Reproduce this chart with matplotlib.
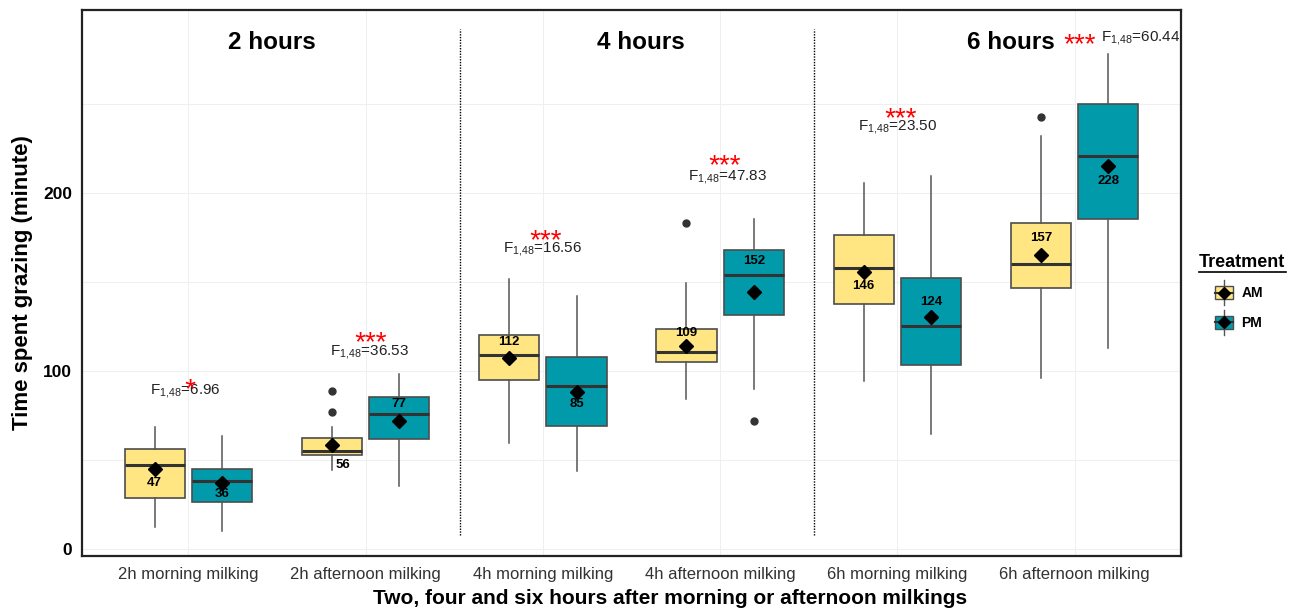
import numpy as np
import matplotlib.pyplot as plt
from matplotlib.lines import Line2D
from matplotlib.patches import Rectangle, Patch
from matplotlib.legend_handler import HandlerBase

plt.rcParams['font.family'] = ['Liberation Sans', 'DejaVu Sans']
plt.rcParams['mathtext.fontset'] = 'custom'
plt.rcParams['mathtext.rm'] = 'Liberation Sans'
plt.rcParams['mathtext.it'] = 'Liberation Sans:italic'

categories = ["2h morning milking", "2h afternoon milking", "4h morning milking",
              "4h afternoon milking", "6h morning milking", "6h afternoon milking"]
treatments = ["AM", "PM"]
panel_titles = ["2 hours", "4 hours", "6 hours"]

# box summaries (minutes)
am_whislo = [12.5, 44.4, 59.7, 84.3, 94.4, 96.2]
am_q1 = [28.8, 53.0, 95.1, 104.9, 137.6, 146.8]
am_med = [47.2, 55.0, 109.0, 110.7, 157.7, 160.0]
am_q3 = [56.2, 62.5, 120.2, 123.8, 176.4, 183.3]
am_whishi = [68.7, 68.7, 151.5, 149.3, 205.4, 232.2]
am_mean = [44.8, 58.4, 107.1, 114.0, 155.4, 165.2]
am_fliers = [[], [76.8, 88.8], [], [183.3], [], [242.5]]
am_labels = [47, 56, 112, 109, 146, 157]

pm_whislo = [10.3, 35.6, 43.8, 89.7, 64.4, 113.1]
pm_q1 = [26.4, 61.6, 69.3, 131.6, 103.4, 185.4]
pm_med = [38.4, 75.7, 91.6, 153.9, 125.3, 221.0]
pm_q3 = [44.8, 85.2, 107.7, 168.2, 152.1, 250.0]
pm_whishi = [63.5, 98.3, 142.3, 185.6, 209.6, 277.9]
pm_mean = [36.9, 72.1, 88.2, 144.6, 130.2, 215.3]
pm_fliers = [[], [], [], [72.1], [], []]
pm_labels = [36, 77, 85, 152, 124, 228]

f_values = ["6.96", "36.53", "16.56", "47.83", "23.50", "60.44"]
stars = ["*", "***", "***", "***", "***", "***"]

# layout of the annotations
am_lab_off = [(0, -18), (11, -14), (0, 13), (0, 19), (0, -18), (0, 26)]
pm_lab_off = [(0, -13), (0, 10), (0, -18), (0, 14), (0, 24), (0, -25)]
f_x = [0.98, 2.02, 3.0, 4.04, 5.0, 6.15]
f_y = [88.8, 110.5, 168.5, 209.2, 236.9, 287.3]
star_x = [1.0, 2.02, 3.01, 4.02, 5.01, 6.02]
star_y = [93.3, 119.7, 176.8, 219.1, 245.1, 286.9]
title_x = [1.47, 3.554, 5.638]

colors = {"AM": "#FFE682", "PM": "#009AAB"}

fig = plt.figure(figsize=(12.98, 6.13), dpi=100)
ax = fig.add_axes([82 / 1298, 57 / 613, (1181 - 82) / 1298, (556 - 10) / 613])

x = np.arange(1, len(categories) + 1)
offset = 0.19
width = 0.34

series = {
    "AM": (am_whislo, am_q1, am_med, am_q3, am_whishi, am_mean, am_fliers, am_labels, am_lab_off, -offset),
    "PM": (pm_whislo, pm_q1, pm_med, pm_q3, pm_whishi, pm_mean, pm_fliers, pm_labels, pm_lab_off, offset),
}

for t in treatments:
    lo, q1, med, q3, hi, mean, fl, labs, loff, dx = series[t]
    stats = []
    for i in range(len(categories)):
        stats.append({"whislo": lo[i], "q1": q1[i], "med": med[i], "q3": q3[i],
                      "whishi": hi[i], "mean": mean[i], "fliers": fl[i]})
    ax.bxp(stats, positions=x + dx, widths=width, patch_artist=True, showmeans=True,
           showcaps=False,
           boxprops=dict(facecolor=colors[t], edgecolor="#4d4d4d", linewidth=1.2),
           medianprops=dict(color="#333333", linewidth=2.2),
           whiskerprops=dict(color="#555555", linewidth=1.1),
           flierprops=dict(marker="o", markerfacecolor="#333333", markeredgecolor="#333333", markersize=5),
           meanprops=dict(marker="D", markerfacecolor="black", markeredgecolor="black", markersize=7.5),
           zorder=3)
    for i in range(len(categories)):
        ax.annotate(str(labs[i]), (x[i] + dx, med[i]), xytext=loff[i], textcoords="offset pixels",
                    ha="center", va="center", fontsize=9.5, fontweight="bold", color="black", zorder=5)

for i in range(len(categories)):
    ftxt = r"F$_{1{,}48}$=" + f_values[i]
    if i == len(categories) - 1:
        ax.text(f_x[i], f_y[i], ftxt, ha="left", va="center", fontsize=11, color="#222222")
    else:
        ax.text(f_x[i], f_y[i], ftxt, ha="center", va="center", fontsize=11, color="#222222")
    ax.annotate(stars[i], (star_x[i], star_y[i]), xytext=(0, -14), textcoords="offset pixels",
                ha="center", va="baseline", fontsize=20, color="red", style="italic", zorder=6)

for tx, tt in zip(title_x, panel_titles):
    ax.text(tx, 284.3, tt, ha="center", va="center", fontsize=17.5, fontweight="bold")

ax.vlines([2.53, 4.53], 8, 292, colors="black", linestyles=(0, (1, 1)), linewidth=1, zorder=2)

ax.set_xlim(0.4, 6.6)
ax.set_ylim(-4, 302.8)
ax.set_xticks(x)
ax.set_xticklabels(categories, fontsize=12, color="#333333")
ax.set_yticks([0, 100, 200])
ax.set_yticks([50, 150, 250], minor=True)
for lab in ax.get_yticklabels():
    lab.set_fontweight("bold")
ax.tick_params(axis="y", labelsize=12.5, labelcolor="black", length=0, pad=7)
ax.tick_params(axis="y", which="minor", length=0)
ax.tick_params(axis="x", length=0, pad=8)
ax.grid(True, which="both", color="#EFEFEF", linewidth=0.7, zorder=0)
ax.set_axisbelow(True)
for s in ax.spines.values():
    s.set_linewidth(1.6)
    s.set_color("#222222")

ax.set_ylabel("Time spent grazing (minute)", fontsize=16, fontweight="bold")
ax.yaxis.set_label_coords((33 - 82) / 1099, 0.5)
ax.set_xlabel("Two, four and six hours after morning or afternoon milkings", fontsize=15, fontweight="bold")
ax.xaxis.set_label_coords((670 - 82) / 1099, -(589 - 556) / 546)


class BoxHandler(HandlerBase):
    def create_artists(self, legend, orig_handle, xdescent, ydescent, width, height, fontsize, trans):
        cx = width / 2 - xdescent
        cy = height / 2 - ydescent
        whisk = Line2D([cx, cx], [cy - height * 0.95, cy + height * 0.95], color="#555555", lw=1, transform=trans)
        box = Rectangle((-xdescent, -ydescent), width, height, facecolor=orig_handle.get_facecolor(),
                        edgecolor="#4d4d4d", lw=1, transform=trans)
        med = Line2D([-xdescent, width - xdescent], [cy, cy], color="#333333", lw=1.5, transform=trans)
        dia = Line2D([cx], [cy], marker="D", color="black", markersize=6, transform=trans)
        return [whisk, box, med, dia]


handles = [Patch(facecolor=colors[t]) for t in treatments]
fig.legend(handles, treatments, handler_map={Patch: BoxHandler()}, loc="upper left",
           bbox_to_anchor=(1208 / 1298, 1 - 279 / 613), frameon=False, handlelength=1.3,
           handleheight=1.1, labelspacing=1.1, handletextpad=0.6, borderpad=0,
           prop={"weight": "bold", "size": 10})
fig.text(1199 / 1298, 1 - 262 / 613, "Treatment", ha="left", va="center", fontsize=13, fontweight="bold")
fig.add_artist(Line2D([1199 / 1298, 1286 / 1298], [1 - 272 / 613] * 2, color="black", lw=1.2))

fig.savefig("out.png", dpi=100)
